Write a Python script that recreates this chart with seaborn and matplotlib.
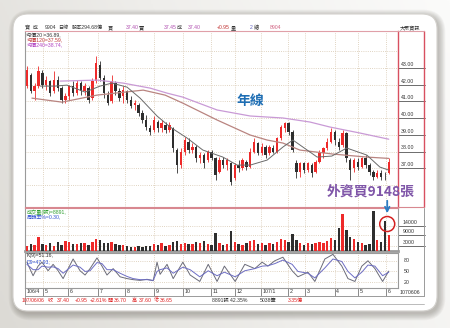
import numpy as np
import matplotlib
matplotlib.use('Agg')
import matplotlib.pyplot as plt
import seaborn as sns
from matplotlib.patches import FancyBboxPatch, Circle
from matplotlib.colors import LinearSegmentedColormap

sns.set_theme(style='white')
plt.rcParams['font.family'] = ['Noto Sans CJK TC', 'DejaVu Sans']
SMALL_FAMILY = ['Liberation Sans', 'Noto Sans CJK TC', 'DejaVu Sans']

# ---------------- data ----------------
opens = [41.9, 42.6, 41.6, 41.9, 42.7, 42.0, 42.2, 41.6, 42.3, 41.8,
         41.1, 41.3, 41.9, 41.5, 42.1, 41.6, 41.8, 41.2, 42.2, 43.2,
         42.4, 41.4, 41.0, 42.1, 41.6, 41.3, 41.6, 41.1, 40.8, 40.8,
         40.3, 39.9, 39.4, 39.3, 39.8, 39.4, 39.6, 39.3, 39.4, 38.1,
         37.2, 38.0, 38.6, 38.1, 38.3, 37.6, 37.8, 37.5, 38.0, 37.6,
         36.8, 37.5, 37.2, 37.3, 36.4, 37.2, 37.0, 37.4, 37.1, 38.0,
         38.5, 37.9, 38.3, 37.9, 38.2, 38.0, 38.8, 39.4, 39.7, 39.2,
         37.3, 36.8, 37.3, 36.9, 37.2, 36.8, 37.4, 37.9, 38.2, 38.6,
         39.2, 38.6, 38.4, 39.1, 37.5, 37.0, 37.4, 37.1, 37.6, 37.2,
         36.8, 36.5, 36.7, 36.5, 36.70]
closes = [42.9, 41.6, 41.9, 42.8, 42.0, 42.3, 41.5, 42.3, 41.8, 41.1,
          41.3, 41.9, 41.5, 42.1, 41.6, 41.9, 41.1, 42.2, 43.3, 42.4,
          41.5, 40.9, 42.2, 41.6, 41.2, 41.7, 41.1, 40.7, 40.9, 40.3,
          39.9, 39.5, 39.2, 39.9, 39.4, 39.7, 39.3, 39.6, 38.2, 37.2,
          38.0, 38.7, 38.1, 38.3, 37.6, 37.8, 37.3, 38.0, 37.6, 36.6,
          37.5, 37.2, 37.5, 36.2, 37.2, 37.0, 37.5, 37.1, 38.0, 38.6,
          37.9, 38.3, 37.8, 38.3, 38.0, 38.8, 39.5, 39.7, 39.2, 38.1,
          36.8, 37.3, 36.9, 37.3, 36.7, 37.4, 37.9, 38.2, 38.6, 39.2,
          38.7, 38.3, 39.1, 37.6, 36.9, 37.5, 37.1, 37.6, 37.2, 36.8,
          36.5, 36.7, 36.5, 36.45, 37.40]
highs = [43.1, 42.7, 42.1, 43.1, 42.9, 42.5, 42.3, 42.8, 42.5, 41.9,
         41.5, 42.0, 42.2, 42.3, 42.2, 42.1, 41.9, 42.4, 43.7, 43.4,
         42.6, 41.6, 42.6, 42.2, 41.8, 41.9, 41.7, 41.3, 41.1, 40.9,
         40.5, 40.2, 39.6, 40.1, 39.9, 39.9, 39.8, 39.8, 39.5, 38.2,
         38.2, 38.9, 38.8, 38.5, 38.4, 38.0, 37.9, 38.1, 38.1, 37.7,
         37.7, 37.7, 37.6, 37.4, 37.3, 37.5, 37.6, 37.5, 38.2, 38.8,
         38.6, 38.5, 38.4, 38.4, 38.4, 38.9, 39.6, 39.8, 39.8, 39.3,
         37.5, 37.4, 37.4, 37.4, 37.3, 37.5, 38.1, 38.3, 38.8, 39.4,
         39.3, 38.8, 39.3, 39.2, 37.6, 37.6, 37.6, 37.7, 37.8, 37.3,
         36.9, 36.9, 36.9, 36.8, 37.60]
lows = [41.8, 41.5, 41.1, 41.8, 41.8, 41.7, 41.3, 41.5, 41.6, 40.9,
        40.9, 41.1, 41.3, 41.4, 41.4, 41.4, 40.9, 41.1, 42.1, 42.2,
        41.2, 40.8, 40.9, 41.4, 41.0, 40.9, 40.9, 40.6, 40.5, 40.1,
        39.7, 39.3, 39.0, 39.2, 39.2, 39.2, 39.1, 39.2, 38.0, 36.7,
        37.0, 37.8, 37.9, 37.9, 37.4, 37.3, 37.0, 37.4, 37.5, 36.3,
        36.7, 37.0, 36.9, 36.0, 36.3, 36.8, 36.9, 36.9, 37.0, 37.9,
        37.8, 37.8, 37.6, 37.8, 37.9, 37.9, 38.7, 39.2, 39.0, 38.0,
        36.4, 36.5, 36.7, 36.8, 36.5, 36.7, 37.3, 37.6, 38.1, 38.5,
        38.4, 38.1, 38.3, 37.4, 36.3, 36.8, 36.9, 37.0, 37.0, 36.6,
        36.3, 36.4, 36.3, 36.3, 36.65]
volumes = [3000, 4000, 3500, 7800, 4000, 3200, 4500, 3000, 4800, 3500,
           5500, 5000, 4000, 3800, 4600, 4200, 3600, 5000, 6500, 6000,
           4600, 4200, 5000, 4000, 3200, 3600, 3000, 2400, 2000, 2600,
           2200, 2800, 3000, 4000, 3500, 4600, 3000, 3600, 4800, 5600,
           4000, 4600, 3800, 4000, 5000, 4200, 5400, 4000, 3600, 10000,
           4200, 3400, 3800, 11000, 4800, 4000, 3600, 4400, 5600, 6000,
           3800, 4200, 3400, 4600, 4000, 5000, 6400, 6000, 5200, 9500,
           6200, 4400, 3600, 4400, 3800, 4200, 5000, 4600, 5800, 7000,
           6200, 13000, 20500, 11500, 8000, 6400, 5000, 4400, 3400, 3800,
           22000, 6000, 5200, 16500, 8891]

ma20_idx = [3.4, 7.3, 10.4, 15.1, 19.0, 22.1, 26.0, 29.4, 33.8, 37.2, 41.6, 45.7, 50.9,
            54.6, 58.0, 62.4, 66.5, 69.1, 72.8, 75.4, 79.2, 83.1, 88.3, 91.7, 94.0]
ma20_vals = [41.92, 41.92, 41.98, 41.56, 41.92, 42.10, 41.86, 41.20, 40.13, 39.47, 38.81, 38.09, 37.67,
             37.19, 37.19, 37.49, 38.27, 38.69, 38.09, 37.67, 37.73, 38.21, 37.79, 37.07, 36.89]
ma120_idx = [1.3, 9.1, 18.2, 30.2, 35.9, 40.5, 49.4, 58.0, 62.4, 66.5, 70.9, 79.5, 88.3, 94.0]
ma120_vals = [41.20, 40.96, 41.38, 41.68, 41.38, 40.90, 39.89, 38.99, 38.69, 38.51, 38.09, 37.85, 37.67, 37.59]
ma240_idx = [8.6, 18.2, 25.0, 32.0, 36.4, 40.5, 49.4, 58.0, 66.5, 73.5, 78.7, 86.5, 94.0]
ma240_vals = [42.22, 42.28, 42.10, 41.80, 41.50, 41.26, 40.49, 40.13, 40.01, 39.77, 39.47, 39.11, 38.74]

kd_idx = [0.0, 1.6, 2.9, 3.9, 5.5, 6.8, 8.1, 9.4, 12.0, 13.8, 15.1, 16.4, 18.2, 19.5, 20.8, 22.4,
          24.2, 26.0, 27.6, 29.4, 31.2, 32.8, 33.8, 34.6, 36.4, 38.0, 40.5, 42.4, 44.9, 47.1, 49.4,
          51.3, 54.1, 56.6, 59.2, 61.1, 62.6, 64.4, 66.5, 68.9, 70.4, 73.0, 74.8, 77.4, 79.5, 81.8,
          83.4, 85.2, 87.0, 88.6, 90.4, 92.4, 94.0]
k_vals = [76, 38, 65, 76, 52, 70, 52, 30, 85, 52, 40, 58, 88, 65, 40, 58,
          35, 30, 27, 25, 28, 24, 76, 42, 70, 30, 76, 40, 22, 70, 22,
          65, 22, 70, 58, 76, 65, 80, 90, 52, 35, 48, 22, 85, 98, 65,
          30, 22, 65, 80, 58, 22, 51]
d_vals = [70, 55, 55, 65, 62, 63, 58, 45, 68, 62, 50, 52, 75, 72, 55, 55,
          45, 36, 30, 27, 27, 25, 50, 55, 60, 45, 62, 55, 35, 52, 38,
          48, 35, 52, 58, 65, 66, 72, 82, 70, 50, 45, 32, 60, 85, 78,
          50, 32, 48, 68, 65, 38, 48]

month_pos = [-0.5, 4.2, 10.7, 18.5, 25.5, 33.0, 40.5, 47.8, 54.0, 60.8, 67.8, 72.2, 80.0, 86.0, 93.3]
month_labels = ['106/4', '5', '6', '7', '8', '9', '10', '11', '12', '107/1', '2', '3', '4', '5', '6']
price_ticks = [37, 38, 39, 40, 41, 42, 43]
vol_ticks = [3000, 9000, 14000]
kd_ticks = [20, 50, 80]

# ---------------- layout ----------------
W, H = 450, 328
fig = plt.figure(figsize=(4.5, 3.28), dpi=100)
fig.patch.set_facecolor('white')


def rect(x0, y0, x1, y1):
    return [x0 / W, 1 - y1 / H, (x1 - x0) / W, (y1 - y0) / H]


ax_bg = fig.add_axes([0, 0, 1, 1], zorder=0)
ax_bg.set_xlim(0, W)
ax_bg.set_ylim(H, 0)
ax_bg.axis('off')
cmap = LinearSegmentedColormap.from_list('bg', ['#dcdad5', '#efeeeb', '#fbfbfa'])
gx = np.linspace(0, 1, 200)[None, :]
gy = np.linspace(0, 1, 150)[:, None]
grad = 0.75 * gx + 0.25 * (1 - gy)
ax_bg.imshow(grad, extent=[0, W, H, 0], cmap=cmap, aspect='auto', zorder=0)
for k in range(9):
    ax_bg.add_patch(FancyBboxPatch((15 - k * 0.8, 16 - k * 0.8), 424 + 1.6 * k, 298 + 1.6 * k,
                                   boxstyle='round,pad=0,rounding_size=%f' % (15 + k),
                                   fc='#6a665e', ec='none', alpha=0.05, zorder=1))
ax_bg.add_patch(FancyBboxPatch((13, 14), 424, 297, boxstyle='round,pad=0,rounding_size=15',
                               fc='white', ec='#d4d2ce', lw=0.8, zorder=2))

L, R = 25, 398
ax_p = fig.add_axes(rect(L, 31, R, 207), zorder=2)
ax_v = fig.add_axes(rect(L, 208, R, 251), zorder=2)
ax_k = fig.add_axes(rect(L, 253, R, 288), zorder=2)

idx = np.arange(len(closes))
o = np.array(opens); c = np.array(closes); hi = np.array(highs); lo = np.array(lows)
prev = np.concatenate([[c[0]], c[:-1]])
RED, DARK, GREEN = '#ee2a2a', '#2e2e2e', '#33b040'
cols = [RED if c[i] > o[i] else (GREEN if c[i] > prev[i] else DARK) for i in range(len(c))]

grid_kw = dict(color='#d6c6ae', lw=0.6, ls=(0, (1, 1.6)), zorder=0)
for ax in (ax_p, ax_v, ax_k):
    ax.set_facecolor('white')
    ax.set_xlim(-0.5, 96.4)
    ax.set_xticks([])
    ax.set_yticks([])
    for m in month_pos[1:]:
        ax.axvline(m, **grid_kw)
    for s in ax.spines.values():
        s.set_linewidth(0.8)
        s.set_color('#9a9a9a')

# price panel
ax_p.set_ylim(34.68, 45.22)
for v in range(36, 45):
    ax_p.axhline(v, **grid_kw)
ax_p.vlines(idx, lo, hi, colors=cols, lw=0.6, zorder=3)
ax_p.bar(idx, np.maximum(np.abs(c - o), 0.04), bottom=np.minimum(o, c), width=0.62,
         color=cols, lw=0, zorder=4)
sns.lineplot(x=ma240_idx, y=ma240_vals, ax=ax_p, color='#c99ad6', lw=0.9, zorder=5)
sns.lineplot(x=ma120_idx, y=ma120_vals, ax=ax_p, color='#b98480', lw=0.9, zorder=5)
sns.lineplot(x=ma20_idx, y=ma20_vals, ax=ax_p, color='#6a6a6a', lw=0.7, zorder=5)
ax_p.spines['top'].set_color('#e0a0a8')
ax_p.spines['bottom'].set_color('#d88890')
ax_p.spines['right'].set_color('#d85060')
ax_p.spines['right'].set_linewidth(1.0)
ax_p.set_xlabel(''); ax_p.set_ylabel('')
yt = ax_p.get_yaxis_transform()
for v in price_ticks:
    ax_p.plot([1.0, 1.072], [v, v], transform=yt, clip_on=False, color='#555555', lw=0.6)
    ax_p.text(1.008, v + 0.07, f'{v:.2f}', transform=yt, fontsize=3.8, color='#333333',
              ha='left', va='bottom', family=SMALL_FAMILY)
ax_p.text(58, 41.0, '年線', fontsize=10, fontweight='bold', color='#1e6eb4',
          ha='center', va='center', zorder=8)
ax_p.text(89.2, 35.6, '外資買9148張', fontsize=10, fontweight='bold', color='#7f55a8',
          ha='center', va='center', zorder=8, clip_on=False)

# volume panel
ax_v.set_ylim(0, 23900)
for v in vol_ticks:
    ax_v.axhline(v, **grid_kw)
ax_v.bar(idx, volumes, width=0.62, color=cols, lw=0, zorder=3)
ax_v.spines['top'].set_color('#d88890')
ax_v.spines['bottom'].set_color('#9c9c9c')
ax_v.spines['bottom'].set_linewidth(2.0)
yt = ax_v.get_yaxis_transform()
for v in vol_ticks:
    ax_v.plot([1.0, 1.072], [v, v], transform=yt, clip_on=False, color='#555555', lw=0.6)
    ax_v.text(1.012, v + 300, f'{v}', transform=yt, fontsize=3.8, color='#333333',
              ha='left', va='bottom', family=SMALL_FAMILY)

# KD panel
ax_k.set_ylim(3.6, 101.8)
for v in kd_ticks:
    ax_k.axhline(v, **grid_kw)
sns.lineplot(x=kd_idx, y=k_vals, ax=ax_k, color='#6b6b78', lw=0.7, zorder=3)
sns.lineplot(x=kd_idx, y=d_vals, ax=ax_k, color='#6d6dc4', lw=0.7, zorder=3)
ax_k.set_xlabel(''); ax_k.set_ylabel('')
yt = ax_k.get_yaxis_transform()
for v in kd_ticks:
    ax_k.text(1.015, v, f'{v}', transform=yt, fontsize=3.8, color='#333333',
              ha='left', va='center', family=SMALL_FAMILY)
for m, lab in zip(month_pos, month_labels):
    ax_k.plot([m, m], [-0.22, 0.0], transform=ax_k.get_xaxis_transform(), clip_on=False,
              color='#777777', lw=0.6)
    ax_k.text(m + 0.4, -0.03, lab, transform=ax_k.get_xaxis_transform(), fontsize=3.8,
              color='#333333', ha='left', va='top', family=SMALL_FAMILY)

# ---------------- overlay: frame, texts, arrow ----------------
ax_top = fig.add_axes([0, 0, 1, 1], zorder=10)
ax_top.set_xlim(0, W)
ax_top.set_ylim(H, 0)
ax_top.axis('off')
ax_top.patch.set_alpha(0)

# right column frame
ax_top.plot([424, 424], [31, 207], color='#d85060', lw=1.0)
ax_top.plot([398, 424], [31, 31], color='#e0a0a8', lw=0.8)
ax_top.plot([398, 424], [207, 207], color='#d88890', lw=0.8)
ax_top.plot([424, 424], [208, 296], color='#9a9a9a', lw=0.7)
ax_top.plot([L, 424], [296, 296], color='#9a9a9a', lw=0.7)
ax_top.plot([L, 424], [304, 304], color='#b0b0b0', lw=0.6)
ax_top.plot([L, L], [288, 304], color='#9a9a9a', lw=0.7)
ax_top.text(400, 292, '1070606', fontsize=3.8, color='#333333', ha='left', va='center',
            family=SMALL_FAMILY)

fs = 3.7
header = [(25, '寶  成', '#333333'), (45, '9904', '#333333'), (58, '日線', '#333333'),
          (72, '股本294.68億', '#333333'), (108, '買', '#333333'), (126, '37.40', '#b050b0'),
          (139, '賣', '#333333'), (164, '37.45', '#b050b0'), (177, '成', '#333333'),
          (188, '37.40', '#b050b0'), (217, '+0.95', '#c03030'), (231, '量', '#333333'),
          (250, '2', '#6060c0'), (253.5, '總', '#333333'), (270, '8904', '#d06080'),
          (400, '大眾資訊', '#333333')]
for x, t, col in header:
    ax_top.text(x, 27.5, t, fontsize=fs, color=col, ha='left', va='center', family=SMALL_FAMILY)

for y, t, col in [(35, '均價20 =36.89,', '#333333'), (40, '均價120=37.59,', '#c03a3a'),
                  (45, '均價240=38.74,', '#b040c0'),
                  (212.5, '成交量(張)=8891,', '#2e9e2e'), (218, '周轉率%=0.30,', '#3050d0'),
                  (256, 'K(9)=51.16,', '#333333'), (261.5, 'D9=47.93,', '#3050d0')]:
    ax_top.text(26.5, y, t, fontsize=fs, color=col, ha='left', va='center', family=SMALL_FAMILY)

info = [(22, '107/06/06', '#e02020'), (48, '收', '#e02020'), (57, '37.40', '#e02020'),
        (75, '+0.95', '#e02020'), (89.5, '+2.61%', '#e02020'), (107.5, '開', '#e02020'),
        (114, '36.70', '#e02020'), (132, '高', '#e02020'), (139, '37.60', '#e02020'),
        (154, '低', '#e02020'), (160, '36.65', '#e02020'), (212, '8891張 42.35%', '#333333'),
        (260, '5038筆', '#333333'), (288, '3.35億', '#e02020')]
for x, t, col in info:
    ax_top.text(x, 300, t, fontsize=fs, color=col, ha='left', va='center', family=SMALL_FAMILY)


def to_top(ax, x, y):
    disp = ax.transData.transform((x, y))
    return ax_top.transData.inverted().transform(disp)


cx, cy = to_top(ax_v, idx[-2] + 0.6, volumes[-2] - 1500)
r = 7.5
ax_top.add_patch(Circle((cx, cy), r, fill=False, ec='#d42020', lw=1.1))
ax_top.annotate('', xy=(cx, cy - r - 0.5), xytext=(cx, 198),
                arrowprops=dict(arrowstyle='->', color='#2a7cc4', lw=1.3, mutation_scale=8))

fig.savefig('out.png', dpi=100)
